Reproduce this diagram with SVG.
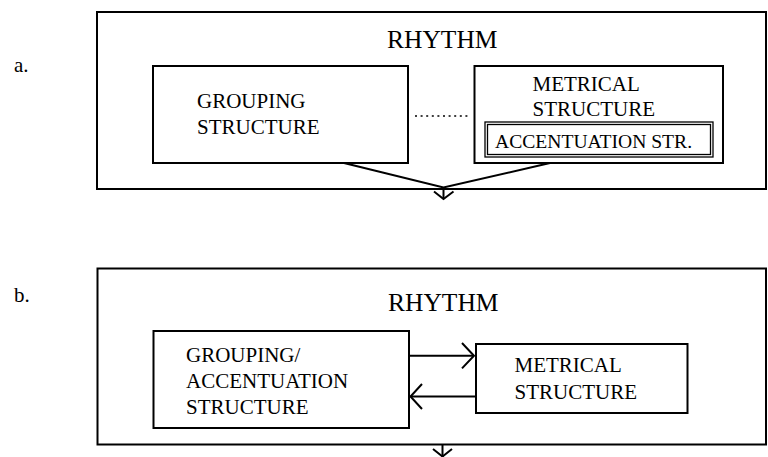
<svg xmlns="http://www.w3.org/2000/svg" width="768" height="457" viewBox="0 0 768 457">
<style>
.box{fill:none;stroke:#000;stroke-width:2}
.thin{fill:none;stroke:#000;stroke-width:1.3}
.t{font-family:"Liberation Serif","Times New Roman",serif;font-size:21px;fill:#000}
.h{font-family:"Liberation Serif","Times New Roman",serif;font-size:25.5px;fill:#000}
.c{fill:none;stroke:#000;stroke-width:2}
</style>
<rect width="768" height="457" fill="#fff"/>
<text class="t" x="14" y="72">a.</text>
<text class="t" x="14" y="302">b.</text>
<g id="rhythm-a">
<rect class="box" x="97" y="12" width="669" height="177"/>
<text class="h" x="387" y="48">RHYTHM</text>
</g>
<g id="grouping-a">
<rect class="box" x="153" y="66" width="255" height="97"/>
<text class="t" x="197" y="108">GROUPING</text>
<text class="t" x="197" y="134">STRUCTURE</text>
</g>
<g id="metrical-a">
<rect class="box" x="474.5" y="66" width="248.5" height="97"/>
<text class="t" x="532.5" y="90.5">METRICAL</text>
<text class="t" x="532.5" y="116">STRUCTURE</text>
</g>
<g id="accentuation-a">
<rect class="thin" x="485" y="122" width="228" height="35"/>
<rect class="thin" x="487.5" y="124.5" width="223" height="30"/>
<text class="t" x="495" y="147.5" style="font-size:19.6px">ACCENTUATION STR.</text>
</g>
<g id="rhythm-b">
<rect class="box" x="97.5" y="268.5" width="668.5" height="176"/>
<text class="h" x="388" y="310.5">RHYTHM</text>
</g>
<g id="grouping-b">
<rect class="box" x="153.5" y="331" width="255.5" height="97"/>
<text class="t" x="186" y="361.5">GROUPING/</text>
<text class="t" x="186" y="387.5">ACCENTUATION</text>
<text class="t" x="186" y="413.5">STRUCTURE</text>
</g>
<g id="metrical-b">
<rect class="box" x="476" y="344" width="211.5" height="69"/>
<text class="t" x="514.5" y="371.5">METRICAL</text>
<text class="t" x="514.5" y="398.5">STRUCTURE</text>
</g>
<g id="connectors">
<line x1="415" y1="116" x2="470" y2="116" stroke="#000" stroke-width="1.6" stroke-dasharray="2 3.6"/>
<polyline class="c" points="344,163 443.5,187.5 550,163"/>
<line class="c" x1="443.5" y1="187.5" x2="443.5" y2="199"/>
<polyline class="c" points="434,191.5 443.5,199 453.5,191.5"/>
<line class="c" x1="409" y1="355.7" x2="474" y2="355.7"/>
<polyline class="c" points="462,343 474,355.7 462,368.4"/>
<line class="c" x1="476" y1="396.5" x2="410.5" y2="396.5"/>
<polyline class="c" points="422,384 410.5,396.5 422,409"/>
<line class="c" x1="442.5" y1="444.5" x2="442.5" y2="457"/>
<polyline class="c" points="433,449 442.5,456.5 452,449"/>
</g>
</svg>
